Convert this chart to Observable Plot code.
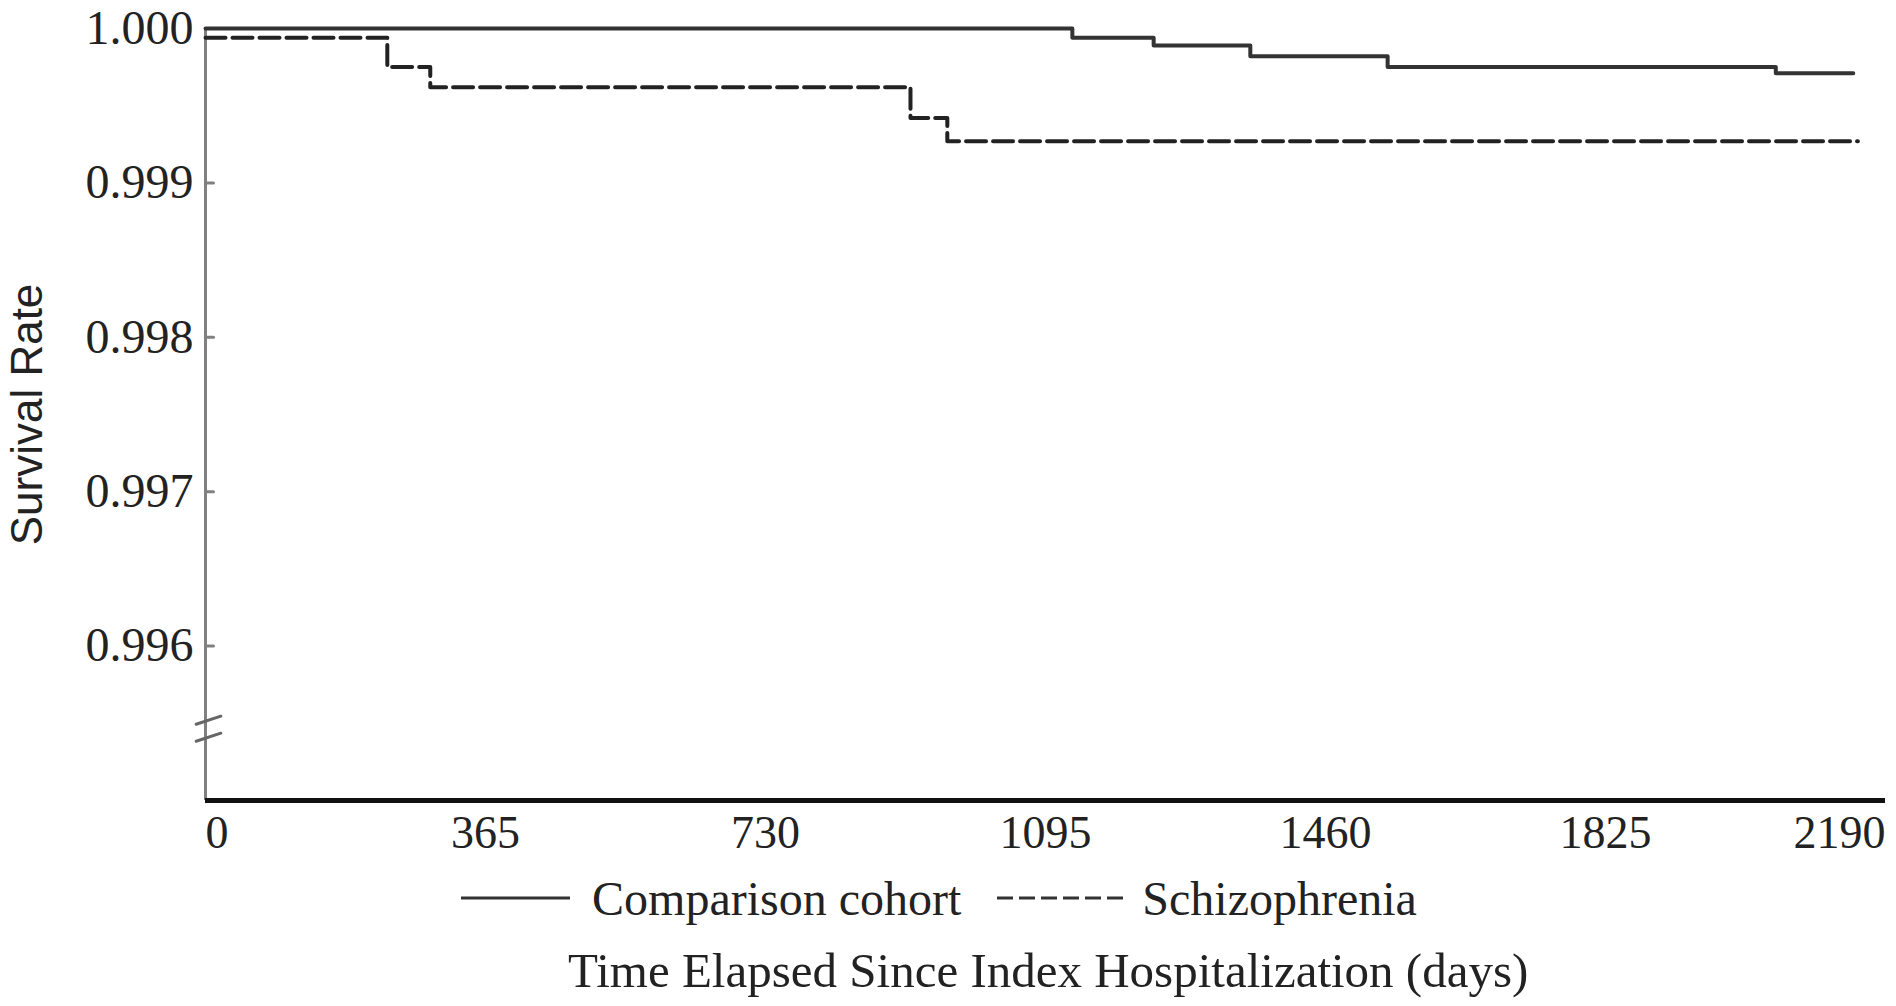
<!DOCTYPE html>
<html>
<head>
<meta charset="utf-8">
<script src="https://cdn.jsdelivr.net/npm/d3@7"></script>
<script src="https://cdn.jsdelivr.net/npm/@observablehq/plot@0.6"></script>
<style>
  html, body { margin: 0; padding: 0; background: #fff; }
  body { font-family: "Liberation Serif", "Times New Roman", serif; color: #222; width: 1896px; }
  #legend { display: flex; justify-content: center; align-items: center; height: 56px; font-size: 48px; padding-right: 18px; }
  #legend svg { display: block; }
  #title { font-size: 49px; line-height: 60px; margin-top: 15px; padding-left: 568px; white-space: nowrap; }
</style>
</head>
<body>
<div id="chart"></div>
<div id="legend"></div>
<div id="title"></div>
<script>
// ---- data ----
const comparisonDays = [0, 1130, 1236, 1362, 1541, 2047, 2148];
const comparisonSurv = [1.0, 0.99994, 0.99989, 0.99982, 0.99975, 0.99971, 0.99971];
const schizoDays = [0, 237, 293, 919, 967, 2154];
const schizoSurv = [0.99994, 0.99975, 0.99962, 0.99942, 0.99927, 0.99927];
const xTicks = [0, 365, 730, 1095, 1460, 1825, 2190];
const yTicks = [0.996, 0.997, 0.998, 0.999, 1.000];
const axisBreaks = [0.99552, 0.99541];
const seriesNames = ["Comparison cohort", "Schizophrenia"];
const xTitle = "Time Elapsed Since Index Hospitalization (days)";
const yTitle = "Survival Rate";

const comparison = comparisonDays.map((t, i) => ({t, s: comparisonSurv[i]}));
const schizo = schizoDays.map((t, i) => ({t, s: schizoSurv[i]}));

const lineShape = { draw(context, l) { context.moveTo(0, 0); context.lineTo(0, -l); } };

const chart = Plot.plot({
  width: 1896,
  height: 870,
  marginLeft: 205,
  marginRight: 11,
  marginTop: 28,
  marginBottom: 70,
  style: { fontFamily: "Liberation Serif, Times New Roman, serif", fontSize: "46px", color: "#222", background: "#fff" },
  x: { domain: [0, 2190] },
  y: { domain: [0.995, 1.0] },
  marks: [
    // y axis line
    Plot.ruleX([0], { y1: 0.995, y2: 1.0, stroke: "#808080", strokeWidth: 3 }),
    // inward y ticks
    Plot.vector(yTicks, { x: 0, y: d => d, rotate: 90, length: 8, anchor: "start", shape: lineShape, stroke: "#808080", strokeWidth: 3 }),
    // axis break marks
    Plot.vector(axisBreaks, { x: 0, y: d => d, dx: 3, rotate: 72, length: 26, anchor: "middle", shape: lineShape, stroke: "#666", strokeWidth: 3 }),
    // y tick labels
    Plot.axisY({ ticks: yTicks, tickFormat: d3.format(".3f"), tickSize: 0, tickPadding: 12, fontSize: 48, label: null }),
    // x axis line
    Plot.ruleY([0.995], { stroke: "#111", strokeWidth: 5 }),
    // x tick labels
    Plot.axisX({ ticks: xTicks.slice(0, 1), tickFormat: d => String(d), tickSize: 0, tickPadding: 15, textAnchor: "start", label: null }),
    Plot.axisX({ ticks: xTicks.slice(1, -1), tickFormat: d => String(d), tickSize: 0, tickPadding: 15, label: null }),
    Plot.axisX({ ticks: xTicks.slice(-1), tickFormat: d => String(d), tickSize: 0, tickPadding: 15, textAnchor: "end", label: null }),
    // survival curves
    Plot.line(comparison, { x: "t", y: "s", curve: "step-after", stroke: "#333", strokeWidth: 4 }),
    Plot.line(schizo, { x: "t", y: "s", curve: "step-after", stroke: "#222", strokeWidth: 4, strokeDasharray: "20,7" }),
    // y title
    Plot.text([yTitle], { frameAnchor: "left", textAnchor: "middle", lineAnchor: "middle", rotate: -90, dx: -178, fontFamily: "Liberation Sans, Arial, sans-serif", fontSize: 44, fill: "#222" })
  ]
});
document.getElementById("chart").appendChild(chart);

// legend
const legend = document.getElementById("legend");
function swatch(w, dash) {
  const ns = "http://www.w3.org/2000/svg";
  const s = document.createElementNS(ns, "svg");
  s.setAttribute("width", w); s.setAttribute("height", 10);
  const ln = document.createElementNS(ns, "line");
  ln.setAttribute("x1", 0); ln.setAttribute("x2", w);
  ln.setAttribute("y1", 5); ln.setAttribute("y2", 5);
  ln.setAttribute("stroke", "#333"); ln.setAttribute("stroke-width", 3);
  if (dash) ln.setAttribute("stroke-dasharray", dash);
  s.appendChild(ln);
  return s;
}
const s1 = swatch(109, null); s1.style.marginRight = "22px";
const t1 = document.createElement("span"); t1.textContent = seriesNames[0];
const s2 = swatch(131, "16,6"); s2.style.marginLeft = "36px"; s2.style.marginRight = "14px";
const t2 = document.createElement("span"); t2.textContent = seriesNames[1];
legend.append(s1, t1, s2, t2);
document.getElementById("title").textContent = xTitle;
</script>
</body>
</html>
